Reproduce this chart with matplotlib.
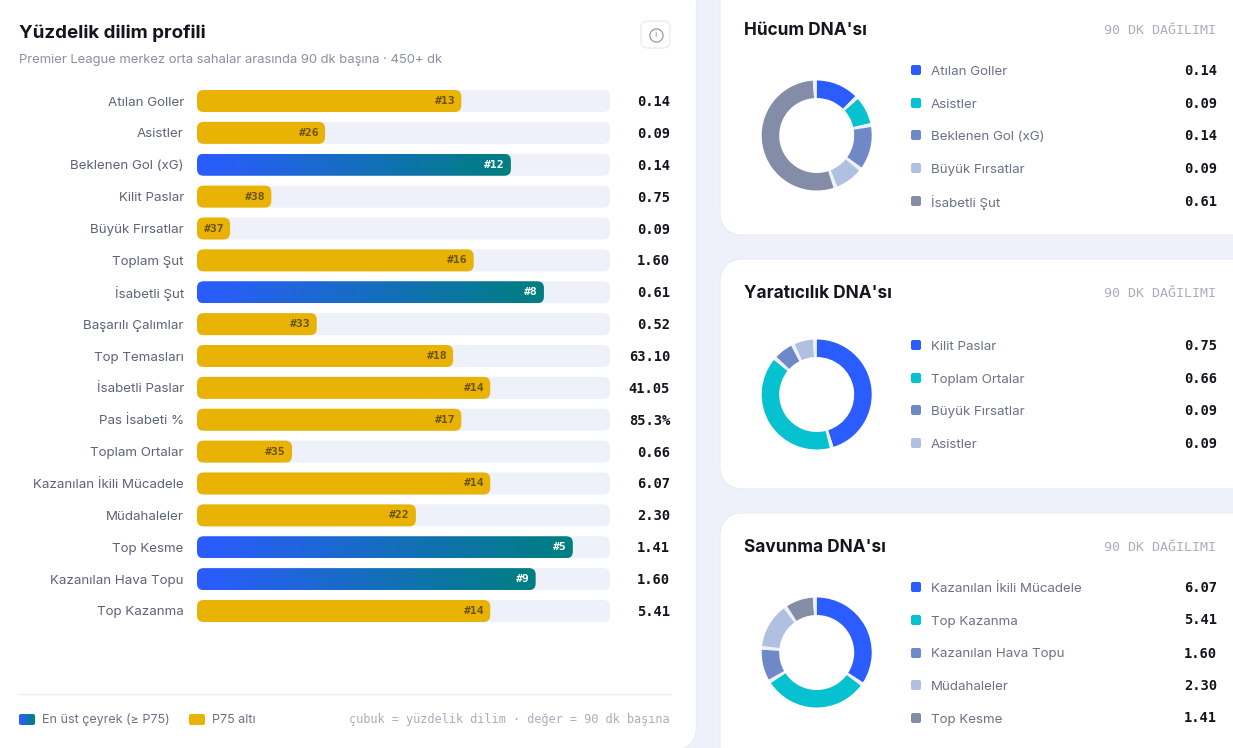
import matplotlib
matplotlib.use('Agg')
import numpy as np
import matplotlib.pyplot as plt
from matplotlib.patches import FancyBboxPatch, Rectangle
from matplotlib.colors import LinearSegmentedColormap

W, H = 1233, 748

# percentile bars
metrics = ['Atılan Goller', 'Asistler', 'Beklenen Gol (xG)', 'Kilit Paslar', 'Büyük Fırsatlar',
           'Toplam Şut', 'İsabetli Şut', 'Başarılı Çalımlar', 'Top Temasları', 'İsabetli Paslar',
           'Pas İsabeti %', 'Toplam Ortalar', 'Kazanılan İkili Mücadele', 'Müdahaleler',
           'Top Kesme', 'Kazanılan Hava Topu', 'Top Kazanma']
percentiles = [64, 31, 76, 18, 8, 67, 84, 29, 62, 71, 64, 23, 71, 53, 91, 82, 71]
ranks = [13, 26, 12, 38, 37, 16, 8, 33, 18, 14, 17, 35, 14, 22, 5, 9, 14]
per90 = ['0.14', '0.09', '0.14', '0.75', '0.09', '1.60', '0.61', '0.52', '63.10', '41.05',
         '85.3%', '0.66', '6.07', '2.30', '1.41', '1.60', '5.41']

# donut cards
attack_labels = ['Atılan Goller', 'Asistler', 'Beklenen Gol (xG)', 'Büyük Fırsatlar', 'İsabetli Şut']
attack_values = [0.14, 0.09, 0.14, 0.09, 0.61]
create_labels = ['Kilit Paslar', 'Toplam Ortalar', 'Büyük Fırsatlar', 'Asistler']
create_values = [0.75, 0.66, 0.09, 0.09]
defend_labels = ['Kazanılan İkili Mücadele', 'Top Kazanma', 'Kazanılan Hava Topu', 'Müdahaleler', 'Top Kesme']
defend_values = [6.07, 5.41, 1.60, 2.30, 1.41]

slice_colors = ['#2b5cff', '#06c1cf', '#6e88c8', '#b0c0e0', '#838da8']
BG = '#eef1f9'
GOLD = '#e9b306'
SANS = ['Inter', 'DejaVu Sans']
MONO = ['DejaVu Sans Mono']
PAD_DEG = 4
grad = LinearSegmentedColormap.from_list('g', ['#2b5cff', '#007f80'])


def px_axes(x0, y0, x1, y1):
    return fig.add_axes([x0 / W, 1 - y1 / H, (x1 - x0) / W, (y1 - y0) / H])


fig = plt.figure(figsize=(W / 100, H / 100), dpi=100, facecolor=BG)

# page furniture, in pixels
bg = fig.add_axes([0, 0, 1, 1])
bg.set_xlim(0, W)
bg.set_ylim(H, 0)
bg.axis('off')


def card(x0, y0, x1, y1):
    bg.add_patch(FancyBboxPatch((x0, y0), x1 - x0, y1 - y0, boxstyle='round,pad=0,rounding_size=24',
                                fc='white', ec='#e9ecf5', lw=0.8))


card(-40, -20, 696.5, 750)
card(720, -30, 1270, 235)
card(720, 259, 1270, 489)
card(720, 513, 1270, 790)

bg.text(19, 33.5, 'Yüzdelik dilim profili', family=SANS, fontsize=13.5, fontweight='bold', color='#14161f', va='center')
bg.text(19, 60, 'Premier League merkez orta sahalar arasında 90 dk başına · 450+ dk', family=SANS,
        fontsize=9.37, color='#8a90a2', va='center')
bg.add_patch(FancyBboxPatch((641, 21), 29, 27, boxstyle='round,pad=0,rounding_size=7', fc='white', ec='#e9ebf1', lw=0.9))
bg.plot([655.5], [34.5], 'o', ms=9.5, mfc='none', mec='#8a90a2', mew=0.8)
bg.text(655.5, 34.5, 'i', family=SANS, fontsize=6.5, color='#8a90a2', ha='center', va='center')

# footer
bg.plot([19, 670], [694, 694], color='#eceef3', lw=1)
swatch = FancyBboxPatch((19, 714), 16, 11, boxstyle='round,pad=0,rounding_size=2', fc='none', ec='none')
bg.add_patch(swatch)
for i in range(16):
    r = Rectangle((19 + i, 714), 1.2, 11, fc=grad(i / 15), ec='none')
    bg.add_patch(r)
    r.set_clip_path(swatch)
bg.add_patch(FancyBboxPatch((189, 714), 16, 11, boxstyle='round,pad=0,rounding_size=2', fc=GOLD, ec='none'))
bg.text(42, 720, 'En üst çeyrek (≥ P75)', family=SANS, fontsize=9, color='#6b7186', va='center')
bg.text(212, 720, 'P75 altı', family=SANS, fontsize=9, color='#6b7186', va='center')
bg.text(670, 720, 'çubuk = yüzdelik dilim · değer = 90 dk başına', family=MONO, fontsize=8.6,
        color='#a9aebd', va='center', ha='right')

# percentile bars
row_h = 31.875
ax = px_axes(197, 101 - row_h / 2, 610, 611 + row_h / 2)
ax.patch.set_alpha(0)
aspect = (100 / 413) / (1 / row_h)
bar_h = 22 / row_h
rows = np.arange(len(metrics))


def round_bar(w, color, z):
    p = FancyBboxPatch((0, y - bar_h / 2), w, bar_h, boxstyle='round,pad=0,rounding_size=1.6',
                       mutation_aspect=1 / aspect, fc=color, ec='none', zorder=z)
    ax.add_patch(p)
    return p


for y, pct, rank, val in zip(rows, percentiles, ranks, per90):
    round_bar(100, BG, 1)
    top = pct >= 75
    bar = round_bar(pct, 'none' if top else GOLD, 2)
    if top:
        im = ax.imshow(np.linspace(0, 1, 200).reshape(1, -1), cmap=grad, aspect='auto', zorder=2,
                       interpolation='bilinear', extent=(0, pct, y + bar_h / 2, y - bar_h / 2))
        im.set_clip_path(bar)
    ax.annotate(f'#{rank}', (pct, y), xytext=(-6, 0), textcoords='offset pixels', ha='right', va='center',
                family=MONO, fontsize=8.2, fontweight='bold', color='white' if top else '#6b5205', zorder=3)
    ax.annotate(val, (100, y), xytext=(60, -1), textcoords='offset pixels', ha='right', va='center',
                family=MONO, fontsize=9.9, fontweight='bold', color='#14161f')

ax.set_xlim(0, 100)
ax.set_ylim(len(metrics) - 0.5, -0.5)
ax.set_xticks([])
ax.set_yticks(rows, metrics, family=SANS, fontsize=9.6, color='#5d6378')
ax.tick_params(axis='y', length=0, pad=9.5)
for s in ax.spines.values():
    s.set_visible(False)


# donuts, each slice followed by a fixed angular gap
def donut_card(title, title_y, cy, labels, values, row_ys):
    bg.text(744, title_y + 1, title, family=SANS, fontsize=12.4, fontweight='bold', color='#14161f', va='center')
    bg.text(1216, title_y + 1.5, '90 DK DAĞILIMI', family=MONO, fontsize=9.6, color='#a9aebd', va='center', ha='right')
    a = px_axes(816.7 - 60, cy - 60, 816.7 + 60, cy + 60)
    n = len(values)
    gap = PAD_DEG / (360 - n * PAD_DEG) * sum(values)
    sizes, cols = [], []
    for v, c in zip(values, slice_colors):
        sizes += [v, gap]
        cols += [c, BG]
    a.pie(sizes, colors=cols, startangle=90, counterclock=False, radius=55 / 60,
          wedgeprops={'width': 17.5 / 60, 'edgecolor': 'none'})
    a.set_xlim(-1, 1)
    a.set_ylim(-1, 1)
    for lab, v, c, ry in zip(labels, values, slice_colors, row_ys):
        bg.add_patch(FancyBboxPatch((911, ry - 5), 10, 10, boxstyle='round,pad=0,rounding_size=2', fc=c, ec='none'))
        bg.text(931, ry + 1.5, lab, family=SANS, fontsize=9.6, color='#6b7186', va='center')
        bg.text(1217, ry + 0.5, f'{v:.2f}', family=MONO, fontsize=9.9, fontweight='bold', color='#14161f', va='center', ha='right')


donut_card("Hücum DNA'sı", 29, 135.5, attack_labels, attack_values, [70, 103, 135, 168, 201])
donut_card("Yaratıcılık DNA'sı", 292, 394.5, create_labels, create_values, [345, 378, 410, 443])
donut_card("Savunma DNA'sı", 546, 652.5, defend_labels, defend_values, [587, 620, 653, 685, 718])

fig.savefig('out.png', dpi=100, facecolor=BG)
